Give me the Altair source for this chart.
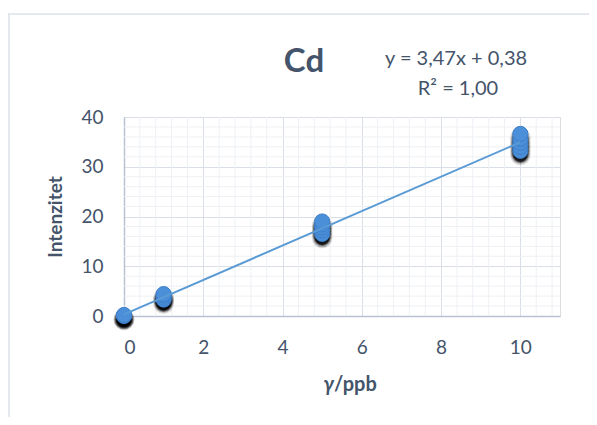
import altair as alt
import pandas as pd

# ---- data ----
conc = [0, 0, 0,
        1, 1, 1, 1,
        5, 5, 5, 5, 5,
        10, 10, 10, 10, 10]
intensity = [0.0, 0.1, 0.2,
             3.3, 3.7, 4.1, 4.4,
             16.5, 17.2, 17.8, 18.4, 19.0,
             33.2, 34.0, 34.8, 35.6, 36.6]
x_ticks = [0, 2, 4, 6, 8, 10]
y_ticks = [0, 10, 20, 30, 40]
x_minor = [0.4, 0.8, 1.2, 1.6, 2.4, 2.8, 3.2, 3.6, 4.4, 4.8, 5.2, 5.6,
           6.4, 6.8, 7.2, 7.6, 8.4, 8.8, 9.2, 9.6, 10.4, 10.8]
y_minor = [2, 4, 6, 8, 12, 14, 16, 18, 22, 24, 26, 28, 32, 34, 36, 38]
title_text = "Cd"
eq_text = "y = 3,47x + 0,38"
r2_text = "R² = 1,00"
y_title = "Intenzitet"

df = pd.DataFrame({"c": conc, "i": intensity})
FONT = "Lato"
TXT = "#44546a"
W, H = 436, 199

xs = alt.Scale(domain=[0, 11], nice=False, zero=False)
ys = alt.Scale(domain=[0, 40], nice=False)

xgrid = alt.Chart(pd.DataFrame({"v": x_minor})).mark_rule(color="#eef0f4", strokeWidth=1).encode(
    x=alt.X("v:Q", scale=xs), y=alt.value(0), y2=alt.value(H))
ygrid = alt.Chart(pd.DataFrame({"v": y_minor})).mark_rule(color="#eef0f4", strokeWidth=1).encode(
    y=alt.Y("v:Q", scale=ys), x=alt.value(0), x2=alt.value(W))

base = alt.Chart(df)

xaxis = alt.Axis(values=x_ticks, grid=True, gridColor="#d9dee7", ticks=False,
                 domainColor="#b8c2d3", domainWidth=1.5, labelFont=FONT, labelFontSize=19,
                 labelColor=TXT, labelPadding=22, title=None, zindex=0)
yaxis = alt.Axis(values=y_ticks, grid=True, gridColor="#d9dee7", ticks=False,
                 domainColor="#b8c2d3", domainWidth=1.5, labelFont=FONT, labelFontSize=19,
                 labelColor=TXT, labelPadding=21, title=None, zindex=0)

shadows = []
for sz, op in [(430, 0.12), (340, 0.22), (260, 0.4), (200, 0.7)]:
    shadows.append(base.mark_circle(color="black", opacity=op, size=sz, xOffset=0, yOffset=4).encode(
        x=alt.X("c:Q", scale=xs, axis=xaxis), y=alt.Y("i:Q", scale=ys, axis=yaxis)))

points = base.mark_circle(color="#4a8fd8", opacity=1, size=230, stroke="#3d7fca", strokeWidth=1).encode(
    x=alt.X("c:Q", scale=xs, axis=xaxis), y=alt.Y("i:Q", scale=ys, axis=yaxis))

trend = base.transform_regression("c", "i", extent=[0, 10]).mark_line(color="#5b9bd5", strokeWidth=2).encode(
    x=alt.X("c:Q", scale=xs, axis=xaxis), y=alt.Y("i:Q", scale=ys, axis=yaxis))

def label(text, x, y, size, weight="normal", style="normal", angle=0, align="center", color=TXT):
    return alt.Chart(pd.DataFrame({"t": [text]})).mark_text(
        font=FONT, fontSize=size, fontWeight=weight, fontStyle=style, color=color,
        align=align, baseline="alphabetic", angle=angle).encode(
        text="t:N", x=alt.value(x), y=alt.value(y))

t_cd = label(title_text, 180, -45, 33, weight="bold")
t_eq = label(eq_text, 332, -52, 20)
t_r2 = label(r2_text, 334, -22, 20)
t_gamma = label("γ", 210, 274, 20, weight="bold", style="italic", align="right")
t_ppb = label("/ppb", 210, 274, 20, weight="bold", align="left")
t_y = alt.Chart(pd.DataFrame({"t": [y_title]})).mark_text(
    font=FONT, fontSize=19, fontWeight="bold", color=TXT, align="center",
    baseline="middle", angle=270).encode(text="t:N", x=alt.value(-68), y=alt.value(100))

frame_top = alt.Chart(pd.DataFrame({"a": [0]})).mark_rule(color="#dde1e8", strokeWidth=1.5).encode(
    x=alt.value(-116), x2=alt.value(470), y=alt.value(-103))
frame_left = alt.Chart(pd.DataFrame({"a": [0]})).mark_rule(color="#dde1e8", strokeWidth=1.5).encode(
    x=alt.value(-115), y=alt.value(-103), y2=alt.value(300))

chart = alt.layer(xgrid, ygrid, *shadows, points, trend, t_cd, t_eq, t_r2, t_gamma, t_ppb, t_y,
                  frame_top, frame_left).properties(
    width=W, height=H,
    autosize=alt.AutoSizeParams(type="none"),
    padding={"left": 116, "top": 109, "right": 29, "bottom": 101},
).configure_view(stroke=None).configure(background="white")

chart.save("out.html", embed_options={"renderer": "svg", "actions": False})
